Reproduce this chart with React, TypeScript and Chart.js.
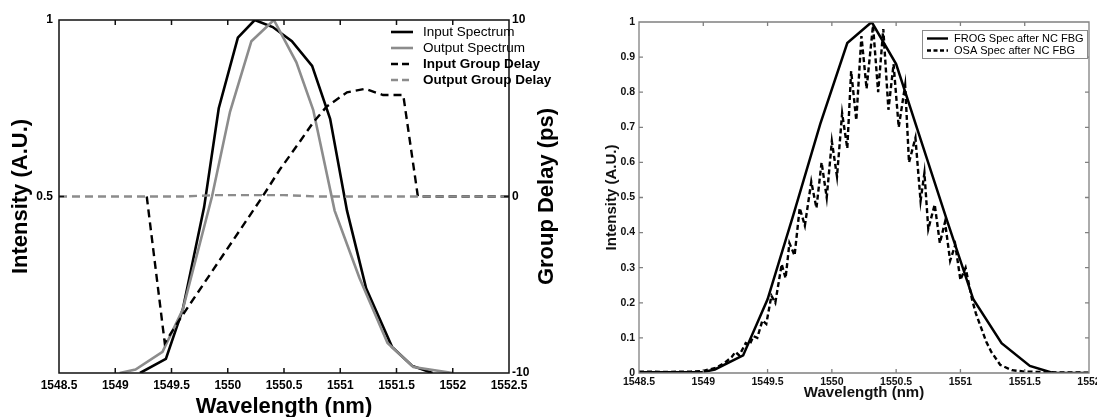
import React, { useEffect, useRef } from "react";
import { Chart, registerables } from "chart.js";

Chart.register(...registerables);

const FONT = '"Liberation Sans", Arial, Helvetica, sans-serif';

// ---------- Left chart data ----------
const leftSeriesNames = ["Input Spectrum", "Output Spectrum", "Input Group Delay", "Output Group Delay"];

const inputSpectrumX = [1549.22, 1549.45, 1549.6, 1549.79, 1549.92, 1550.09, 1550.24, 1550.4, 1550.57, 1550.75, 1550.91, 1551.06, 1551.23, 1551.46, 1551.64, 1551.82];
const inputSpectrumY = [0, 0.04, 0.18, 0.47, 0.75, 0.95, 1.0, 0.98, 0.94, 0.87, 0.72, 0.46, 0.24, 0.074, 0.02, 0];

const outputSpectrumX = [1549.04, 1549.18, 1549.42, 1549.6, 1549.86, 1550.02, 1550.21, 1550.41, 1550.61, 1550.76, 1550.95, 1551.17, 1551.42, 1551.65, 1552.0];
const outputSpectrumY = [0, 0.01, 0.06, 0.18, 0.5, 0.74, 0.94, 1.0, 0.88, 0.745, 0.46, 0.27, 0.085, 0.017, 0];

const inputDelayX = [1549.28, 1549.44, 1549.59, 1549.95, 1550.31, 1550.46, 1550.64, 1550.76, 1550.88, 1551.06, 1551.22, 1551.38, 1551.56, 1551.69, 1552.5];
const inputDelayY = [0, -8.3, -6.8, -3.4, 0, 1.5, 3.1, 4.2, 5.1, 5.9, 6.1, 5.75, 5.75, 0, 0];

const outputDelayX = [1548.5, 1549.6, 1549.9, 1550.5, 1550.8, 1552.5];
const outputDelayY = [0, 0, 0.08, 0.08, 0, 0];

// ---------- Right chart data ----------
const rightSeriesNames = ["FROG Spec after NC FBG", "OSA Spec after NC FBG"];

const frogX = [1548.5, 1549.0, 1549.09, 1549.31, 1549.5, 1549.7, 1549.91, 1550.12, 1550.31, 1550.5, 1550.7, 1550.9, 1551.1, 1551.32, 1551.54, 1551.72, 1552.0];
const frogY = [0.002, 0.003, 0.01, 0.05, 0.21, 0.45, 0.71, 0.94, 1.0, 0.88, 0.655, 0.43, 0.21, 0.085, 0.02, 0.0, 0.0];

const osaX = [1548.5, 1548.7, 1548.9, 1549.0, 1549.1, 1549.17, 1549.22, 1549.25, 1549.28, 1549.33, 1549.36, 1549.39, 1549.42, 1549.46, 1549.49, 1549.53, 1549.56, 1549.61, 1549.64, 1549.67, 1549.71, 1549.75, 1549.79, 1549.84, 1549.88, 1549.92, 1549.96, 1550.0, 1550.04, 1550.08, 1550.12, 1550.15, 1550.19, 1550.23, 1550.27, 1550.32, 1550.36, 1550.4, 1550.44, 1550.48, 1550.52, 1550.57, 1550.6, 1550.65, 1550.69, 1550.72, 1550.75, 1550.8, 1550.84, 1550.88, 1550.92, 1550.96, 1551.0, 1551.04, 1551.09, 1551.12, 1551.15, 1551.2, 1551.24, 1551.31, 1551.4, 1551.5, 1551.7, 1552.0];
const osaY = [0.004, 0.003, 0.004, 0.006, 0.015, 0.03, 0.045, 0.06, 0.05, 0.085, 0.08, 0.105, 0.1, 0.15, 0.14, 0.22, 0.2, 0.31, 0.27, 0.37, 0.335, 0.47, 0.42, 0.545, 0.47, 0.6, 0.5, 0.66, 0.56, 0.74, 0.64, 0.86, 0.72, 0.96, 0.81, 0.99, 0.8, 0.98, 0.75, 0.88, 0.7, 0.82, 0.6, 0.67, 0.49, 0.57, 0.41, 0.48, 0.37, 0.43, 0.32, 0.365, 0.265, 0.3, 0.21, 0.17, 0.14, 0.09, 0.06, 0.023, 0.008, 0.004, 0.002, 0.001];

const pts = (xs: number[], ys: number[]) => xs.map((x, i) => ({ x, y: ys[i] }));

const fmtWave = (v: any) => {
  const n = Number(v);
  return Number.isInteger(n) ? String(n) : n.toFixed(1);
};

type LegendItem = { label: string; color: string; dash: number[]; bold: boolean };

function framePlugin(id: string, color: string, width: number, tick: number, yLeft: string, yRight: string | null) {
  return {
    id,
    afterDatasetsDraw(chart: any) {
      const { ctx, chartArea: a } = chart;
      ctx.save();
      ctx.setLineDash([]);
      ctx.strokeStyle = color;
      ctx.lineWidth = width;
      ctx.beginPath();
      ctx.rect(a.left, a.top, a.right - a.left, a.bottom - a.top);
      const xs = chart.scales.x;
      xs.ticks.forEach((t: any) => {
        const px = xs.getPixelForValue(t.value);
        ctx.moveTo(px, a.top);
        ctx.lineTo(px, a.top + tick);
        ctx.moveTo(px, a.bottom);
        ctx.lineTo(px, a.bottom - tick);
      });
      const yl = chart.scales[yLeft];
      yl.ticks.forEach((t: any) => {
        const py = yl.getPixelForValue(t.value);
        ctx.moveTo(a.left, py);
        ctx.lineTo(a.left + tick, py);
        if (!yRight) {
          ctx.moveTo(a.right, py);
          ctx.lineTo(a.right - tick, py);
        }
      });
      if (yRight) {
        const yr = chart.scales[yRight];
        yr.ticks.forEach((t: any) => {
          const py = yr.getPixelForValue(t.value);
          ctx.moveTo(a.right, py);
          ctx.lineTo(a.right - tick, py);
        });
      }
      ctx.stroke();
      ctx.restore();
    },
  };
}

function legendPlugin(
  id: string,
  items: LegendItem[],
  x0: number,
  y0: number,
  dy: number,
  lineLen: number,
  textGap: number,
  fontSize: number,
  lineWidth: number,
  box: { x: number; y: number; w: number; h: number } | null
) {
  return {
    id,
    afterDraw(chart: any) {
      const ctx = chart.ctx;
      ctx.save();
      if (box) {
        ctx.fillStyle = "#fff";
        ctx.fillRect(box.x, box.y, box.w, box.h);
        ctx.strokeStyle = "#8a8a8a";
        ctx.lineWidth = 1;
        ctx.setLineDash([]);
        ctx.strokeRect(box.x + 0.5, box.y + 0.5, box.w, box.h);
      }
      items.forEach((it, i) => {
        const y = y0 + i * dy;
        ctx.strokeStyle = it.color;
        ctx.lineWidth = lineWidth;
        ctx.setLineDash(it.dash);
        ctx.beginPath();
        ctx.moveTo(x0, y);
        ctx.lineTo(x0 + lineLen, y);
        ctx.stroke();
        ctx.setLineDash([]);
        ctx.fillStyle = "#000";
        ctx.font = `${it.bold ? "bold " : ""}${fontSize}px ${FONT}`;
        ctx.textAlign = "left";
        ctx.textBaseline = "middle";
        ctx.fillText(it.label, x0 + lineLen + textGap, y + 0.5);
      });
      ctx.restore();
    },
  };
}

const rightTitlePlugin = {
  id: "rightTitle",
  afterDraw(chart: any) {
    const { ctx, chartArea: a } = chart;
    ctx.save();
    ctx.translate(547, (a.top + a.bottom) / 2);
    ctx.rotate(-Math.PI / 2);
    ctx.font = `bold 22px ${FONT}`;
    ctx.fillStyle = "#000";
    ctx.textAlign = "center";
    ctx.textBaseline = "middle";
    ctx.fillText("Group Delay (ps)", 0, 0);
    ctx.restore();
  },
};

const LW = 565;
const RW = 522;
const H = 417;
const GRAY = "#8c8c8c";
const NOGRID = { display: false, drawTicks: false, tickLength: 0 };

export default function App() {
  const leftRef = useRef<HTMLCanvasElement | null>(null);
  const rightRef = useRef<HTMLCanvasElement | null>(null);

  useEffect(() => {
    if (!leftRef.current || !rightRef.current) return;

    const leftChart = new Chart(leftRef.current, {
      type: "line",
      data: {
        datasets: [
          { label: leftSeriesNames[0], data: pts(inputSpectrumX, inputSpectrumY), yAxisID: "y", borderColor: "#000", borderWidth: 2.6, order: 4 },
          { label: leftSeriesNames[1], data: pts(outputSpectrumX, outputSpectrumY), yAxisID: "y", borderColor: GRAY, borderWidth: 2.6, order: 3 },
          { label: leftSeriesNames[2], data: pts(inputDelayX, inputDelayY), yAxisID: "y2", borderColor: "#000", borderWidth: 2.4, borderDash: [8, 5], order: 2 },
          { label: leftSeriesNames[3], data: pts(outputDelayX, outputDelayY), yAxisID: "y2", borderColor: GRAY, borderWidth: 2.4, borderDash: [8, 5], order: 1 },
        ] as any,
      },
      options: {
        responsive: false,
        animation: false,
        events: [],
        elements: { point: { radius: 0 }, line: { tension: 0 } },
        layout: { padding: { top: 20, left: 0, right: 0, bottom: 0 } },
        plugins: { legend: { display: false }, tooltip: { enabled: false } },
        scales: {
          x: {
            type: "linear",
            min: 1548.5,
            max: 1552.5,
            grid: NOGRID,
            border: { display: false },
            ticks: { stepSize: 0.5, autoSkip: false, maxRotation: 0, padding: 5, color: "#000", font: { family: FONT, size: 12, weight: "bold" }, callback: fmtWave },
            title: { display: true, text: "Wavelength (nm)", color: "#000", font: { family: FONT, size: 22, weight: "bold", lineHeight: 1 }, padding: { top: 0, bottom: -1 } },
            afterFit: (s: any) => { s.height = H - 373; s.paddingLeft = 0; s.paddingRight = 0; },
          },
          y: {
            type: "linear",
            position: "left",
            min: 0,
            max: 1,
            grid: NOGRID,
            border: { display: false },
            ticks: { stepSize: 0.5, padding: 6, color: "#000", font: { family: FONT, size: 12, weight: "bold" }, callback: (v: any) => (Number(v) === 0 ? "" : String(v)) },
            title: { display: true, text: "Intensity (A.U.)", color: "#000", font: { family: FONT, size: 22, weight: "bold", lineHeight: 1 }, padding: { top: 10, bottom: 0 } },
            afterFit: (s: any) => { s.width = 59; s.paddingTop = 0; s.paddingBottom = 0; },
          },
          y2: {
            type: "linear",
            position: "right",
            min: -10,
            max: 10,
            grid: NOGRID,
            border: { display: false },
            ticks: { stepSize: 10, padding: 3, color: "#000", font: { family: FONT, size: 12, weight: "bold" }, callback: (v: any) => String(v) },
            afterFit: (s: any) => { s.width = LW - 509; s.paddingTop = 0; s.paddingBottom = 0; },
          },
        },
      } as any,
      plugins: [
        framePlugin("frameL", "#111", 1.5, 5, "y", "y2"),
        legendPlugin(
          "legendL",
          [
            { label: leftSeriesNames[0], color: "#000", dash: [], bold: false },
            { label: leftSeriesNames[1], color: GRAY, dash: [], bold: false },
            { label: leftSeriesNames[2], color: "#000", dash: [7, 4], bold: true },
            { label: leftSeriesNames[3], color: GRAY, dash: [7, 4], bold: true },
          ],
          391, 32, 16, 22, 10, 13.5, 2.6, null
        ),
        rightTitlePlugin,
      ],
    });

    const rightChart = new Chart(rightRef.current, {
      type: "line",
      data: {
        datasets: [
          { label: rightSeriesNames[0], data: pts(frogX, frogY), borderColor: "#000", borderWidth: 2.5, order: 2 },
          { label: rightSeriesNames[1], data: pts(osaX, osaY), borderColor: "#000", borderWidth: 2.4, borderDash: [5, 3], order: 1 },
        ] as any,
      },
      options: {
        responsive: false,
        animation: false,
        events: [],
        elements: { point: { radius: 0 }, line: { tension: 0 } },
        layout: { padding: { top: 22, left: 0, right: 8, bottom: 0 } },
        plugins: { legend: { display: false }, tooltip: { enabled: false } },
        scales: {
          x: {
            type: "linear",
            min: 1548.5,
            max: 1552,
            grid: NOGRID,
            border: { display: false },
            ticks: { stepSize: 0.5, autoSkip: false, maxRotation: 0, padding: 3, color: "#111", font: { family: FONT, size: 10.5, weight: "bold" }, callback: fmtWave },
            title: { display: true, text: "Wavelength (nm)", color: "#111", font: { family: FONT, size: 15, weight: "bold", lineHeight: 1 }, padding: { top: 0, bottom: 16.5 } },
            afterFit: (s: any) => { s.height = H - 373; s.paddingLeft = 0; s.paddingRight = 0; },
          },
          y: {
            type: "linear",
            position: "left",
            min: 0,
            max: 1,
            grid: NOGRID,
            border: { display: false },
            ticks: {
              stepSize: 0.1,
              padding: 4,
              color: "#111",
              font: { family: FONT, size: 10.5, weight: "bold" },
              callback: (v: any) => {
                const n = Number(v);
                if (Math.abs(n) < 1e-9) return "0";
                if (Math.abs(n - 1) < 1e-9) return "1";
                return n.toFixed(1);
              },
            },
            title: { display: true, text: "Intensity (A.U.)", color: "#111", font: { family: FONT, size: 15, weight: "bold", lineHeight: 1 }, padding: { top: 29.5, bottom: 0 } },
            afterFit: (s: any) => { s.width = 64; s.paddingTop = 0; s.paddingBottom = 0; },
          },
        },
      } as any,
      plugins: [
        framePlugin("frameR", "#808080", 1.3, 4, "y", null),
        legendPlugin(
          "legendR",
          [
            { label: rightSeriesNames[0], color: "#000", dash: [], bold: false },
            { label: rightSeriesNames[1], color: "#000", dash: [4, 2.5], bold: false },
          ],
          352, 38.5, 12, 21, 6, 11, 2.4, { x: 347, y: 30, w: 165, h: 28 }
        ),
      ],
    });

    return () => {
      leftChart.destroy();
      rightChart.destroy();
    };
  }, []);

  return (
    <div style={{ position: "fixed", left: 0, top: 0, width: 1097, height: H, background: "#fff", overflow: "hidden" }}>
      <canvas ref={leftRef} width={LW} height={H} style={{ position: "absolute", left: 0, top: 0, width: LW, height: H }} />
      <canvas ref={rightRef} width={RW} height={H} style={{ position: "absolute", left: 575, top: 0, width: RW, height: H }} />
    </div>
  );
}
